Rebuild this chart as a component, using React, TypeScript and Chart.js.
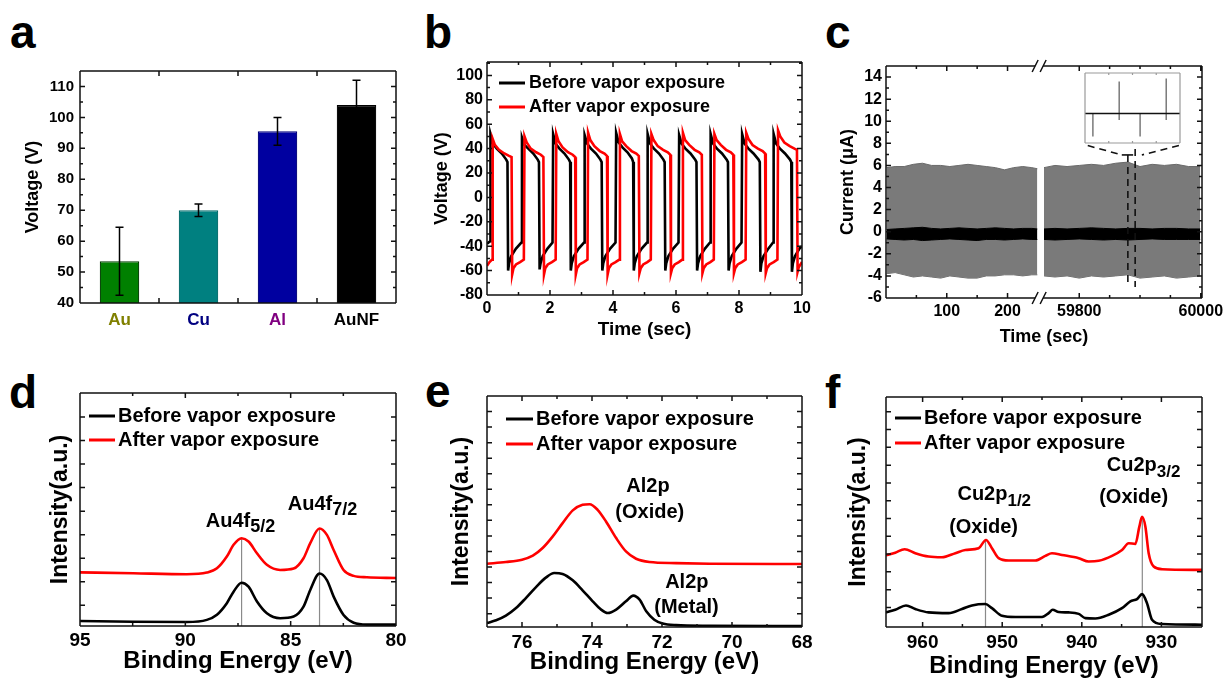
import React, { useEffect, useRef } from "react";
import { Chart, registerables } from "chart.js";

Chart.register(...registerables);

const FONT = "'Liberation Sans', Arial, Helvetica, sans-serif";
Chart.defaults.font.family = FONT;
Chart.defaults.font.weight = "bold";
Chart.defaults.color = "#000";

// ---------------- Panel a ----------------
const aCategories = ["Au", "Cu", "Al", "AuNF"];
const aVoltage = [53.5, 70, 95.5, 104];
const aError = [11, 2, 4.5, 8];
const aBarColors = ["#008000", "#008080", "#0000a0", "#000000"];
const aBarEdges = ["#003a00", "#006a6a", "#00007a", "#000000"];
const aLabelColors = ["#808000", "#000080", "#800080", "#000000"];
const aYTicks = [40, 50, 60, 70, 80, 90, 100, 110];
const aYMinor = [45, 55, 65, 75, 85, 95, 105];

// ---------------- Shared legend ----------------
const seriesLabels = ["Before vapor exposure", "After vapor exposure"];
const seriesColors = ["#000000", "#ff0000"];

// ---------------- Panel b ----------------
const bTimeTicks = [0, 2, 4, 6, 8, 10];
const bTimeMinor = [1, 3, 5, 7, 9];
const bVoltTicks = [-80, -60, -40, -20, 0, 20, 40, 60, 80, 100];
const bVoltMinor = [-70, -50, -30, -10, 10, 30, 50, 70, 90, 110];
const bBefore: [number, number][] = [
  [0, -38], [0.1, -36], [0.11, 52], [0.19, 44], [0.31, 40], [0.47, 36], [0.61, 31], [0.65, 29],
  [0.67, -60], [0.7, -54], [0.77, -48], [0.92, -42], [1.09, -37],
  [1.11, 49], [1.19, 43], [1.31, 40], [1.47, 36], [1.61, 31], [1.65, 29],
  [1.67, -59], [1.7, -54], [1.77, -48], [1.92, -42], [2.08, -37],
  [2.1, 52], [2.18, 44], [2.3, 40], [2.46, 36], [2.6, 31], [2.64, 29],
  [2.66, -60], [2.69, -54], [2.76, -48], [2.91, -42], [3.08, -37],
  [3.1, 51], [3.18, 44], [3.3, 40], [3.46, 36], [3.6, 31], [3.64, 29],
  [3.66, -60], [3.69, -54], [3.76, -48], [3.91, -42], [4.08, -37],
  [4.1, 53], [4.18, 45], [4.3, 41], [4.46, 37], [4.6, 32], [4.64, 29],
  [4.66, -60], [4.69, -54], [4.76, -48], [4.91, -42], [5.08, -37],
  [5.1, 52], [5.18, 44], [5.3, 40], [5.46, 36], [5.6, 31], [5.64, 29],
  [5.66, -60], [5.69, -54], [5.76, -48], [5.91, -42], [6.08, -37],
  [6.1, 51], [6.18, 44], [6.3, 40], [6.46, 36], [6.61, 31], [6.65, 29],
  [6.67, -60], [6.7, -54], [6.77, -48], [6.92, -42], [7.08, -37],
  [7.1, 52], [7.18, 44], [7.3, 40], [7.46, 36], [7.61, 31], [7.65, 29],
  [7.67, -60], [7.7, -54], [7.77, -48], [7.92, -42], [8.08, -37],
  [8.1, 52], [8.18, 44], [8.3, 40], [8.46, 36], [8.62, 31], [8.66, 29],
  [8.68, -61], [8.71, -54], [8.78, -48], [8.93, -42], [9.08, -37],
  [9.1, 52], [9.18, 44], [9.3, 40], [9.46, 36], [9.62, 31], [9.66, 29],
  [9.68, -61], [9.71, -54], [9.78, -48], [9.92, -42], [10, -40],
];
const bAfter: [number, number][] = [
  [0, -56], [0.08, -53], [0.16, -51],
  [0.18, 48], [0.25, 43], [0.38, 39], [0.55, 36], [0.7, 34], [0.78, 33],
  [0.8, -63], [0.84, -58], [0.92, -55], [1.05, -53], [1.17, -51],
  [1.19, 50], [1.26, 45], [1.39, 40], [1.56, 37], [1.71, 35], [1.79, 33],
  [1.81, -63], [1.85, -58], [1.93, -55], [2.06, -53], [2.18, -51],
  [2.2, 52], [2.27, 46], [2.4, 41], [2.57, 37], [2.72, 35], [2.8, 33],
  [2.82, -63], [2.86, -58], [2.94, -55], [3.07, -53], [3.19, -51],
  [3.21, 53], [3.28, 47], [3.41, 42], [3.58, 38], [3.73, 36], [3.81, 34],
  [3.83, -63], [3.87, -58], [3.95, -55], [4.08, -53], [4.2, -51],
  [4.22, 52], [4.29, 46], [4.42, 42], [4.59, 38], [4.74, 36], [4.82, 34],
  [4.84, -62], [4.88, -58], [4.96, -55], [5.09, -53], [5.2, -51],
  [5.22, 52], [5.29, 47], [5.42, 42], [5.59, 39], [5.74, 37], [5.82, 35],
  [5.84, -62], [5.88, -58], [5.96, -55], [6.09, -53], [6.2, -51],
  [6.22, 53], [6.29, 47], [6.42, 43], [6.59, 39], [6.74, 37], [6.82, 35],
  [6.84, -62], [6.88, -58], [6.96, -55], [7.09, -53], [7.2, -51],
  [7.22, 52], [7.29, 47], [7.42, 43], [7.59, 39], [7.74, 37], [7.82, 35],
  [7.84, -62], [7.88, -58], [7.96, -55], [8.09, -53], [8.21, -51],
  [8.23, 53], [8.3, 48], [8.43, 43], [8.6, 40], [8.75, 38], [8.83, 36],
  [8.85, -62], [8.89, -58], [8.97, -55], [9.1, -53], [9.22, -51],
  [9.24, 55], [9.31, 50], [9.44, 45], [9.61, 42], [9.76, 40], [9.84, 39],
  [9.86, -61], [9.9, -57], [10, -53],
];

// ---------------- Panel c ----------------
const cTickTimes = [100, 200, 59800, 60000];
const cMinorTimes = [50, 150, 59850, 59900, 59950];
const cCurrentTicks = [-6, -4, -2, 0, 2, 4, 6, 8, 10, 12, 14];
const cCurrentMinor = [-5, -3, -1, 1, 3, 5, 7, 9, 11, 13];
const cLeftTimes = [1, 15, 30, 45, 60, 75, 90, 105, 120, 135, 150, 165, 180, 195, 210, 225, 240, 249];
const cLeftUpper = [5.8, 5.9, 5.9, 6.1, 6.2, 6.0, 6.0, 5.9, 6.0, 6.1, 6.0, 5.9, 5.8, 5.6, 5.8, 5.9, 5.8, 5.7];
const cLeftLower = [-3.8, -3.7, -3.9, -4.1, -4.0, -4.1, -4.2, -4.0, -4.1, -4.2, -4.2, -4.0, -4.0, -3.9, -3.9, -4.0, -3.9, -3.9];
const cLeftBandTop = [0.2, 0.25, 0.3, 0.35, 0.4, 0.3, 0.25, 0.3, 0.35, 0.3, 0.25, 0.3, 0.35, 0.3, 0.25, 0.3, 0.3, 0.25];
const cLeftBandBottom = [-0.65, -0.7, -0.75, -0.7, -0.8, -0.75, -0.7, -0.65, -0.7, -0.75, -0.8, -0.7, -0.7, -0.75, -0.7, -0.65, -0.7, -0.7];
const cRightTimes = [59742, 59760, 59780, 59800, 59820, 59840, 59860, 59880, 59900, 59920, 59940, 59960, 59980, 59999];
const cRightUpper = [5.8, 6.0, 5.9, 6.0, 6.1, 6.0, 6.2, 6.3, 5.9, 6.1, 6.0, 6.1, 5.9, 5.9];
const cRightLower = [-4.0, -4.1, -4.0, -4.2, -4.0, -4.1, -4.0, -3.9, -4.2, -4.1, -4.0, -4.2, -4.1, -4.0];
const cRightBandTop = [0.25, 0.3, 0.25, 0.3, 0.35, 0.3, 0.25, 0.3, 0.3, 0.25, 0.3, 0.3, 0.25, 0.25];
const cRightBandBottom = [-0.7, -0.75, -0.7, -0.65, -0.7, -0.75, -0.7, -0.75, -0.7, -0.65, -0.7, -0.7, -0.7, -0.7];
// broken axis: right segment is shifted so 59800 sits at axis unit 318
const cBreakShift = 59800 - 318;
const cBreakAt = 252;
const cAxis = (t: number) => (t > 1000 ? t - cBreakShift : t);
// zoom window & inset
const cZoomWindow = [59880, 59892];
const cZoomTop = 6.95;
const cZoomBottom = -5.0;
const cConnectorEnds = [59870, 59903];
const cInsetCorners = [59814, 59964];
const cInsetBottom = 7.8;
const insetSpikeX = [0.83, 3.6, 5.8, 8.55];
const insetSpikeLow = [-0.79, -0.22, -0.79, -0.22];
const insetSpikeHigh = [0, 1.1, 0, 1.2];

// ---------------- Panel d ----------------
const dEnergyTicks = [95, 90, 85, 80];
const dEnergyMinor = [92.5, 87.5, 82.5];
const dIntensityTicks = [0, 1, 2, 3, 4, 5, 6, 7, 8];
const dBefore: [number, number][] = [
  [95, -0.67], [92.47, -0.7], [89.93, -0.71], [88.98, -0.62], [88.5, -0.4], [88.03, 0.09], [87.71, 0.58],
  [87.33, 0.96], [87.0, 0.79], [86.6, 0.16], [86.13, -0.34], [85.5, -0.55], [84.86, -0.48], [84.39, -0.06],
  [84.07, 0.65], [83.63, 1.35], [83.28, 1.07], [82.96, 0.37], [82.49, -0.41], [82.01, -0.74], [81.38, -0.82], [80, -0.82],
];
const dAfter: [number, number][] = [
  [95, 1.4], [92.47, 1.36], [89.93, 1.32], [88.98, 1.39], [88.5, 1.57], [88.03, 2.07], [87.71, 2.57],
  [87.33, 2.85], [87.0, 2.71], [86.6, 2.21], [86.13, 1.72], [85.5, 1.5], [84.86, 1.56], [84.39, 2.0],
  [84.07, 2.64], [83.63, 3.26], [83.28, 2.99], [82.96, 2.35], [82.49, 1.5], [82.01, 1.25], [81.38, 1.19], [80, 1.16],
];
const dPeaks = [87.33, 83.63];
const dPeakTops = [2.85, 3.26];

// ---------------- Panel e ----------------
const eEnergyTicks = [76, 74, 72, 70, 68];
const eEnergyMinor = [77, 75, 73, 71, 69];
const eIntensityTicks = [0, 1, 2, 3, 4, 5, 6, 7, 8, 9, 10, 11, 12, 13];
const eBefore: [number, number][] = [
  [77.0, -0.6], [76.74, -0.43], [76.46, -0.13], [76.17, 0.36], [75.89, 1.0], [75.6, 1.71], [75.31, 2.33],
  [75.08, 2.61], [74.84, 2.55], [74.55, 2.14], [74.27, 1.5], [73.98, 0.79], [73.74, 0.26], [73.55, 0.04],
  [73.31, 0.26], [73.03, 0.79], [72.82, 1.16], [72.64, 0.9], [72.45, 0.15], [72.22, -0.39], [71.98, -0.64],
  [71.6, -0.74], [70.64, -0.78], [68.0, -0.8],
];
const eAfter: [number, number][] = [
  [77.0, 3.21], [76.46, 3.32], [76.0, 3.47], [75.69, 3.73], [75.41, 4.22], [75.12, 4.97], [74.84, 5.82],
  [74.55, 6.64], [74.27, 7.0], [74.07, 7.04], [73.84, 6.68], [73.6, 5.93], [73.31, 4.86], [73.03, 4.0],
  [72.74, 3.53], [72.36, 3.32], [71.6, 3.25], [70.64, 3.21], [68.0, 3.19],
];

// ---------------- Panel f ----------------
const fEnergyTicks = [960, 950, 940, 930];
const fEnergyMinor = [955, 945, 935];
const fIntensityTicks = [0, 1, 2, 3, 4, 5, 6, 7, 8, 9, 10, 11];
const fBefore: [number, number][] = [
  [964.6, -0.28], [963.44, -0.13], [962.09, 0.11], [960.92, -0.09], [959.25, -0.28], [956.73, -0.32],
  [955.06, -0.09], [953.8, 0.11], [952.12, 0.19], [951.29, -0.04], [950.03, -0.47], [948.35, -0.54],
  [945.0, -0.54], [944.16, -0.32], [943.66, -0.13], [942.91, -0.26], [941.65, -0.28], [940.39, -0.36],
  [939.56, -0.6], [938.3, -0.62], [936.62, -0.41], [934.95, -0.04], [933.9, 0.34], [933.06, 0.47],
  [932.43, 0.75], [931.81, 0.24], [931.18, -0.69], [929.92, -0.93], [924.9, -0.97],
];
const fAfter: [number, number][] = [
  [964.6, 2.93], [963.44, 3.08], [962.26, 3.27], [960.92, 3.05], [959.25, 2.86], [957.57, 2.82],
  [955.89, 3.05], [954.64, 3.23], [952.96, 3.33], [952.04, 3.79], [951.29, 3.33], [950.45, 2.77],
  [949.19, 2.64], [945.84, 2.64], [944.58, 2.9], [943.75, 3.05], [942.49, 2.95], [940.39, 2.77],
  [939.14, 2.58], [937.88, 2.62], [936.2, 2.9], [934.95, 3.23], [934.11, 3.61], [933.27, 3.57],
  [932.77, 4.54], [932.43, 5.1], [932.01, 4.54], [931.6, 3.05], [930.97, 2.3], [929.92, 2.15], [924.9, 2.11],
];
const fPeaks = [952.1, 932.4];
const fPeakTops = [3.79, 5.1];

// ================= helpers =================
type Layout = { left: number; top: number; width: number; height: number; L: number; T: number; R: number; B: number };

function makeLayout(
  plot: [number, number, number, number],
  yTitleCx: number,
  yTitleSize: number,
  xTitleCy: number | null,
  xTitleSize: number,
  R = 26
): Layout {
  const T = 12;
  const left = Math.round(yTitleCx - (yTitleSize * 1.2) / 2);
  const top = plot[1] - T;
  const right = plot[2] + R;
  const bottom = xTitleCy != null ? Math.round(xTitleCy + (xTitleSize * 1.2) / 2) : plot[3] + 42;
  return { left, top, width: right - left, height: bottom - top, L: plot[0] - left, T, R, B: bottom - plot[3] };
}

const bold = (size: number) => ({ family: FONT, size, weight: "bold" as const });
const pts = (arr: [number, number][]) => arr.map(([x, y]) => ({ x, y }));

function baseOptions(l: Layout) {
  return {
    responsive: false,
    animation: false as const,
    events: [] as any[],
    layout: { padding: { top: l.T, right: l.R, left: 0, bottom: 0 } },
    plugins: { legend: { display: false }, tooltip: { enabled: false } },
    elements: { point: { radius: 0 } },
  };
}

function xLinear(l: Layout, o: any) {
  return {
    type: "linear",
    position: "bottom",
    min: o.min,
    max: o.max,
    reverse: !!o.reverse,
    grid: { display: false, drawTicks: false },
    border: { display: false },
    ticks: { stepSize: o.step, font: bold(o.size), padding: o.padding ?? 4, includeBounds: false, maxRotation: 0, autoSkip: false },
    title: o.title ? { display: true, text: o.title, font: bold(o.titleSize), padding: 0 } : { display: false },
    afterFit: (s: any) => {
      s.height = l.B;
      s.paddingLeft = 0;
      s.paddingRight = 0;
    },
  };
}

function yLinear(l: Layout, o: any) {
  return {
    type: "linear",
    position: "left",
    min: o.min,
    max: o.max,
    grid: { display: false, drawTicks: false },
    border: { display: false },
    ticks: { display: o.showTicks !== false, stepSize: o.step, font: bold(o.size ?? 15), padding: o.padding ?? 5, includeBounds: false },
    title: { display: true, text: o.title, font: bold(o.titleSize), padding: 0 },
    afterFit: (s: any) => {
      s.width = l.L;
      s.paddingTop = 0;
      s.paddingBottom = 0;
    },
  };
}

function makeFrame(o: any) {
  return {
    id: "frame",
    afterDatasetsDraw(chart: any) {
      const { ctx, chartArea: a, scales } = chart;
      const xs = scales.x;
      const ys = scales.y;
      ctx.save();
      ctx.strokeStyle = o.color ?? "#111";
      ctx.lineWidth = o.width ?? 1.5;
      const bx = o.breakAt != null ? xs.getPixelForValue(o.breakAt) : null;
      const gap = 4;
      ctx.beginPath();
      for (const y of [a.top, a.bottom]) {
        if (bx == null) {
          ctx.moveTo(a.left, y);
          ctx.lineTo(a.right, y);
        } else {
          ctx.moveTo(a.left, y);
          ctx.lineTo(bx - gap, y);
          ctx.moveTo(bx + gap, y);
          ctx.lineTo(a.right, y);
        }
      }
      ctx.moveTo(a.left, a.top);
      ctx.lineTo(a.left, a.bottom);
      ctx.moveTo(a.right, a.top);
      ctx.lineTo(a.right, a.bottom);
      const xt = (vals: number[] | undefined, len: number) =>
        (vals || []).forEach((v) => {
          const p = xs.getPixelForValue(v);
          if (p < a.left + 1 || p > a.right - 1) return;
          ctx.moveTo(p, a.bottom);
          ctx.lineTo(p, a.bottom - len);
          ctx.moveTo(p, a.top);
          ctx.lineTo(p, a.top + len);
        });
      const yt = (vals: number[] | undefined, len: number) =>
        (vals || []).forEach((v) => {
          const p = ys.getPixelForValue(v);
          if (p < a.top + 1 || p > a.bottom - 1) return;
          ctx.moveTo(a.left, p);
          ctx.lineTo(a.left + len, p);
          ctx.moveTo(a.right, p);
          ctx.lineTo(a.right - len, p);
        });
      xt(o.xMajor, o.major ?? 5);
      xt(o.xMinor, o.minor ?? 3);
      yt(o.yMajor, o.major ?? 5);
      yt(o.yMinor, o.minor ?? 3);
      ctx.stroke();
      if (bx != null) {
        ctx.beginPath();
        for (const y of [a.top, a.bottom])
          for (const d of [-gap, gap]) {
            ctx.moveTo(bx + d - 3, y + 6);
            ctx.lineTo(bx + d + 3, y - 6);
          }
        ctx.stroke();
      }
      ctx.restore();
    },
  };
}

function makeLegend(o: { x0: number; x1: number; tx: number; rows: number[]; size: number }) {
  return {
    id: "lgd",
    afterDatasetsDraw(chart: any) {
      const { ctx, chartArea: a } = chart;
      ctx.save();
      ctx.font = `bold ${o.size}px ${FONT}`;
      ctx.textBaseline = "middle";
      ctx.textAlign = "left";
      seriesLabels.forEach((label, i) => {
        const y = a.top + o.rows[i];
        ctx.strokeStyle = seriesColors[i];
        ctx.lineWidth = 3;
        ctx.beginPath();
        ctx.moveTo(a.left + o.x0, y);
        ctx.lineTo(a.left + o.x1, y);
        ctx.stroke();
        ctx.fillStyle = "#000";
        ctx.fillText(label, a.left + o.tx, y);
      });
      ctx.restore();
    },
  };
}

type Note = { x: number; y: number; text: string; sub?: string };
function makeNotes(items: Note[], size: number, subSize: number, drop: number) {
  return {
    id: "notes",
    afterDatasetsDraw(chart: any) {
      const { ctx, scales } = chart;
      ctx.save();
      ctx.fillStyle = "#000";
      ctx.textBaseline = "alphabetic";
      ctx.textAlign = "left";
      items.forEach((n) => {
        const px = scales.x.getPixelForValue(n.x);
        const py = scales.y.getPixelForValue(n.y);
        ctx.font = `bold ${size}px ${FONT}`;
        const w1 = ctx.measureText(n.text).width;
        let w2 = 0;
        if (n.sub) {
          ctx.font = `bold ${subSize}px ${FONT}`;
          w2 = ctx.measureText(n.sub).width;
        }
        const start = px - (w1 + w2) / 2;
        ctx.font = `bold ${size}px ${FONT}`;
        ctx.fillText(n.text, start, py);
        if (n.sub) {
          ctx.font = `bold ${subSize}px ${FONT}`;
          ctx.fillText(n.sub, start + w1, py + drop);
        }
      });
      ctx.restore();
    },
  };
}

function makeErrorBars(vals: number[], errs: number[]) {
  return {
    id: "errbars",
    afterDatasetsDraw(chart: any) {
      const { ctx, scales } = chart;
      const y = scales.y;
      const meta = chart.getDatasetMeta(0);
      ctx.save();
      ctx.strokeStyle = "#000";
      ctx.lineWidth = 1.5;
      meta.data.forEach((bar: any, i: number) => {
        const top = y.getPixelForValue(vals[i] + errs[i]);
        const bot = y.getPixelForValue(vals[i] - errs[i]);
        ctx.beginPath();
        ctx.moveTo(bar.x, top);
        ctx.lineTo(bar.x, bot);
        ctx.moveTo(bar.x - 4, top);
        ctx.lineTo(bar.x + 4, top);
        ctx.moveTo(bar.x - 4, bot);
        ctx.lineTo(bar.x + 4, bot);
        ctx.stroke();
      });
      ctx.restore();
    },
  };
}

function peakLines(peaks: number[], tops: number[], base: number) {
  return peaks.map((p, i) => ({
    data: [{ x: p, y: base }, { x: p, y: tops[i] }],
    borderColor: "#8a8a8a",
    borderWidth: 1.2,
    pointRadius: 0,
    order: 5,
  }));
}

function xpsSeries(before: [number, number][], after: [number, number][]) {
  return [
    { data: pts(after), borderColor: seriesColors[1], borderWidth: 2.6, pointRadius: 0, cubicInterpolationMode: "monotone", order: 1 },
    { data: pts(before), borderColor: seriesColors[0], borderWidth: 2.6, pointRadius: 0, cubicInterpolationMode: "monotone", order: 2 },
  ];
}

// ================= layouts =================
const LA = makeLayout([80, 71, 396, 303], 33, 18, null, 0, 20);
const LB = makeLayout([487, 62, 802, 295], 442, 18, 330, 19, 22);
const LC = makeLayout([886, 66, 1202, 298], 848, 18, 337, 18, 26);
const LD = makeLayout([80, 393, 396, 626], 61, 23, 662, 24, 20);
const LE = makeLayout([487, 396, 802, 627], 462, 23, 663, 24, 22);
const LF = makeLayout([886, 397, 1202, 627], 859, 23, 667, 24, 24);

// ================= configs =================
function configA(l: Layout) {
  return {
    type: "bar",
    data: {
      labels: aCategories,
      datasets: [
        {
          data: aVoltage,
          backgroundColor: aBarColors,
          borderColor: aBarEdges,
          borderWidth: 1.2,
          barPercentage: 0.5,
          categoryPercentage: 1,
        },
      ],
    },
    options: {
      ...baseOptions(l),
      scales: {
        x: {
          type: "category",
          grid: { display: false, drawTicks: false },
          border: { display: false },
          ticks: { font: bold(17), padding: 7, color: (c: any) => aLabelColors[c.index] },
          afterFit: (s: any) => {
            s.height = l.B;
            s.paddingLeft = 0;
            s.paddingRight = 0;
          },
        },
        y: yLinear(l, { min: 40, max: 115, step: 10, size: 15, padding: 6, title: "Voltage (V)", titleSize: 18 }),
      },
    },
    plugins: [makeFrame({ xMajor: [0.5, 1.5, 2.5], yMajor: aYTicks, yMinor: aYMinor }), makeErrorBars(aVoltage, aError)],
  };
}

function configB(l: Layout) {
  return {
    type: "line",
    data: {
      datasets: [
        { data: pts(bAfter), borderColor: seriesColors[1], borderWidth: 2.6, pointRadius: 0, tension: 0, order: 0 },
        { data: pts(bBefore), borderColor: seriesColors[0], borderWidth: 2.6, pointRadius: 0, tension: 0, order: 1 },
      ],
    },
    options: {
      ...baseOptions(l),
      scales: {
        x: xLinear(l, { min: 0, max: 10, step: 2, size: 16, padding: 4, title: "Time (sec)", titleSize: 19 }),
        y: yLinear(l, { min: -80, max: 111, step: 20, size: 16, padding: 4, title: "Voltage (V)", titleSize: 18 }),
      },
    },
    plugins: [
      makeFrame({ xMajor: bTimeTicks, xMinor: bTimeMinor, yMajor: bVoltTicks, yMinor: bVoltMinor }),
      makeLegend({ x0: 12, x1: 38, tx: 42, rows: [21, 45], size: 18 }),
    ],
  };
}

function zip(times: number[], vals: number[]) {
  return times.map((t, i) => ({ x: cAxis(t), y: vals[i] }));
}

function configC(l: Layout) {
  const grey = "#7a7a7a";
  const band = (top: number[], bot: number[], times: number[], color: string, fillColor: string) => [
    { data: zip(times, top), borderColor: color, borderWidth: 1, backgroundColor: fillColor, fill: "+1", pointRadius: 0, tension: 0 },
    { data: zip(times, bot), borderColor: color, borderWidth: 1, pointRadius: 0, tension: 0, fill: false },
  ];
  return {
    type: "line",
    data: {
      datasets: [
        ...band(cLeftBandTop, cLeftBandBottom, cLeftTimes, "#000", "#000"),
        ...band(cRightBandTop, cRightBandBottom, cRightTimes, "#000", "#000"),
        ...band(cLeftUpper, cLeftLower, cLeftTimes, "#6a6a6a", grey),
        ...band(cRightUpper, cRightLower, cRightTimes, "#6a6a6a", grey),
      ],
    },
    options: {
      ...baseOptions(l),
      scales: {
        x: {
          ...xLinear(l, { min: 0, max: 520, size: 16, padding: 4, title: "Time (sec)", titleSize: 18 }),
          afterBuildTicks: (s: any) => {
            s.ticks = cTickTimes.map((t) => ({ value: cAxis(t) }));
          },
          ticks: {
            font: bold(16),
            padding: 4,
            maxRotation: 0,
            autoSkip: false,
            callback: (_v: any, i: number) => String(cTickTimes[i]),
          },
        },
        y: yLinear(l, { min: -6, max: 15, step: 2, size: 16, padding: 4, title: "Current (\u03bcA)", titleSize: 18 }),
      },
    },
    plugins: [
      makeFrame({
        xMajor: cTickTimes.map(cAxis),
        xMinor: cMinorTimes.map(cAxis),
        yMajor: cCurrentTicks,
        yMinor: cCurrentMinor,
        breakAt: cBreakAt,
      }),
      {
        id: "zoomlines",
        afterDatasetsDraw(chart: any) {
          const { ctx, scales } = chart;
          const X = (t: number) => scales.x.getPixelForValue(cAxis(t));
          const Y = (v: number) => scales.y.getPixelForValue(v);
          ctx.save();
          ctx.strokeStyle = "#111";
          ctx.lineWidth = 1.6;
          ctx.setLineDash([7, 5]);
          ctx.beginPath();
          ctx.moveTo(X(cInsetCorners[0]), Y(cInsetBottom));
          ctx.lineTo(X(cConnectorEnds[0]), Y(cZoomTop));
          ctx.moveTo(X(cInsetCorners[1]), Y(cInsetBottom));
          ctx.lineTo(X(cConnectorEnds[1]), Y(cZoomTop));
          ctx.moveTo(X(cZoomWindow[0]), Y(cZoomTop));
          ctx.lineTo(X(cZoomWindow[0]), Y(cZoomBottom));
          ctx.moveTo(X(cZoomWindow[1]), Y(cZoomTop) - 6);
          ctx.lineTo(X(cZoomWindow[1]), Y(cZoomBottom));
          ctx.stroke();
          ctx.setLineDash([]);
          ctx.beginPath();
          ctx.moveTo(X(cConnectorEnds[0]), Y(cZoomTop));
          ctx.lineTo(X(cZoomWindow[1]) - 2, Y(cZoomTop));
          ctx.stroke();
          ctx.restore();
        },
      },
    ],
  };
}

function configInset(l: Layout) {
  const spikes: any[] = [];
  insetSpikeX.forEach((x, i) => {
    spikes.push({ x, y: insetSpikeLow[i] }, { x, y: insetSpikeHigh[i] }, { x, y: null });
  });
  return {
    type: "line",
    data: {
      datasets: [
        { data: [{ x: 0, y: 0 }, { x: 10, y: 0 }], borderColor: "#111", borderWidth: 1.4, pointRadius: 0 },
        { data: spikes, borderColor: "#7a7a7a", borderWidth: 1.5, pointRadius: 0, spanGaps: false },
      ],
    },
    options: {
      responsive: false,
      animation: false as const,
      events: [] as any[],
      layout: { padding: 1 },
      plugins: { legend: { display: false }, tooltip: { enabled: false } },
      scales: {
        x: { type: "linear", display: false, min: 0, max: 10 },
        y: { type: "linear", display: false, min: -1.01, max: 1.39 },
      },
    },
    plugins: [makeFrame({ color: "#9a9a9a", width: 1.2, xMinor: [2.5, 5, 7.5], minor: 2 })],
  };
}

function configD(l: Layout) {
  const ymin = -0.88;
  return {
    type: "line",
    data: { datasets: [...xpsSeries(dBefore, dAfter), ...peakLines(dPeaks, dPeakTops, ymin)] },
    options: {
      ...baseOptions(l),
      scales: {
        x: xLinear(l, { min: 80, max: 95, step: 5, reverse: true, size: 19, padding: 3, title: "Binding Energy (eV)", titleSize: 24 }),
        y: yLinear(l, { min: ymin, max: 9.02, showTicks: false, title: "Intensity(a.u.)", titleSize: 23 }),
      },
    },
    plugins: [
      makeFrame({ xMajor: dEnergyTicks, xMinor: dEnergyMinor, yMajor: dIntensityTicks, major: 5, minor: 3 }),
      makeLegend({ x0: 9, x1: 35, tx: 38, rows: [23, 47], size: 20 }),
      makeNotes(
        [
          { x: 87.38, y: 3.34, text: "Au4f", sub: "5/2" },
          { x: 83.49, y: 4.05, text: "Au4f", sub: "7/2" },
        ],
        20,
        18,
        5
      ),
    ],
  };
}

function configE(l: Layout) {
  return {
    type: "line",
    data: { datasets: xpsSeries(eBefore, eAfter) },
    options: {
      ...baseOptions(l),
      scales: {
        x: xLinear(l, { min: 68, max: 77, step: 2, reverse: true, size: 19, padding: 4, title: "Binding Energy (eV)", titleSize: 24 }),
        y: yLinear(l, { min: -0.86, max: 14, showTicks: false, title: "Intensity(a.u.)", titleSize: 23 }),
      },
    },
    plugins: [
      makeFrame({ xMajor: eEnergyTicks, xMinor: eEnergyMinor, yMajor: eIntensityTicks, major: 5, minor: 3 }),
      makeLegend({ x0: 19, x1: 46, tx: 49, rows: [23, 48], size: 20 }),
      makeNotes(
        [
          { x: 72.4, y: 7.85, text: "Al2p" },
          { x: 72.35, y: 6.14, text: "(Oxide)" },
          { x: 71.29, y: 1.65, text: "Al2p" },
          { x: 71.3, y: 0.04, text: "(Metal)" },
        ],
        20,
        18,
        5
      ),
    ],
  };
}

function configF(l: Layout) {
  const ymin = -1.1;
  return {
    type: "line",
    data: { datasets: [...xpsSeries(fBefore, fAfter), ...peakLines(fPeaks, fPeakTops, ymin)] },
    options: {
      ...baseOptions(l),
      scales: {
        x: xLinear(l, { min: 924.9, max: 964.6, step: 10, reverse: true, size: 19, padding: 4, title: "Binding Energy (eV)", titleSize: 24 }),
        y: yLinear(l, { min: ymin, max: 11.83, showTicks: false, title: "Intensity(a.u.)", titleSize: 23 }),
      },
    },
    plugins: [
      makeFrame({ xMajor: fEnergyTicks, xMinor: fEnergyMinor, yMajor: fIntensityTicks, major: 5, minor: 3 }),
      makeLegend({ x0: 9, x1: 35, tx: 38, rows: [21, 46], size: 20 }),
      makeNotes(
        [
          { x: 951.0, y: 6.04, text: "Cu2p", sub: "1/2" },
          { x: 952.34, y: 4.2, text: "(Oxide)" },
          { x: 932.24, y: 7.66, text: "Cu2p", sub: "3/2" },
          { x: 933.49, y: 5.85, text: "(Oxide)" },
        ],
        20,
        17,
        6
      ),
    ],
  };
}

// ================= components =================
function ChartPanel({ layout, make }: { layout: Layout; make: (l: Layout) => any }) {
  const ref = useRef<HTMLCanvasElement>(null);
  useEffect(() => {
    const chart = new Chart(ref.current as HTMLCanvasElement, make(layout));
    return () => chart.destroy();
  }, []);
  return (
    <canvas
      ref={ref}
      width={layout.width}
      height={layout.height}
      style={{ position: "absolute", left: layout.left, top: layout.top, width: layout.width, height: layout.height }}
    />
  );
}

const INSET: Layout = { left: 1084, top: 72, width: 97, height: 72, L: 0, T: 0, R: 0, B: 0 };

const letters: { ch: string; left: number; top: number }[] = [
  { ch: "a", left: 10, top: 9 },
  { ch: "b", left: 424, top: 9 },
  { ch: "c", left: 825, top: 9 },
  { ch: "d", left: 9, top: 369 },
  { ch: "e", left: 425, top: 368 },
  { ch: "f", left: 825, top: 369 },
];

export default function App() {
  return (
    <div style={{ position: "fixed", left: 0, top: 0, width: 1229, height: 682, background: "#fff", overflow: "hidden" }}>
      {letters.map((l) => (
        <div
          key={l.ch}
          style={{
            position: "absolute",
            left: l.left,
            top: l.top,
            font: `bold 46px/46px ${FONT}`,
            color: "#000",
          }}
        >
          {l.ch}
        </div>
      ))}
      <ChartPanel layout={LA} make={configA} />
      <ChartPanel layout={LB} make={configB} />
      <ChartPanel layout={LC} make={configC} />
      <ChartPanel layout={INSET} make={configInset} />
      <ChartPanel layout={LD} make={configD} />
      <ChartPanel layout={LE} make={configE} />
      <ChartPanel layout={LF} make={configF} />
    </div>
  );
}
